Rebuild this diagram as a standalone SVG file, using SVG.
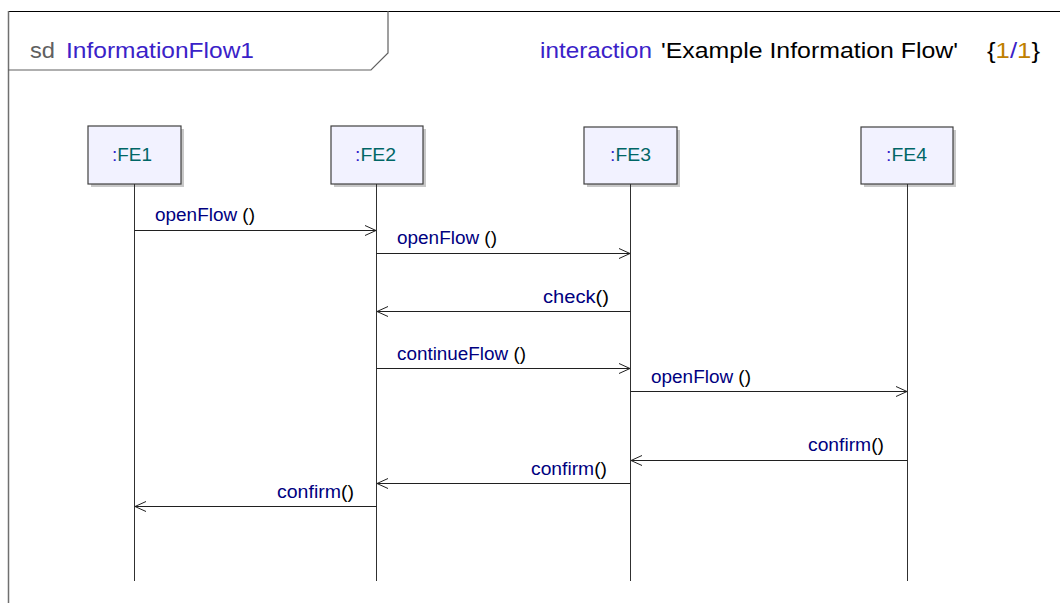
<svg xmlns="http://www.w3.org/2000/svg" width="1060" height="603" viewBox="0 0 1060 603">
<defs>
<style>
text{font-family:"Liberation Sans",Arial,sans-serif}
.t{font-size:21.5px}
.lbl{font-size:17.5px;fill:#000080}
.par{fill:#000}
.node rect.box{fill:#f2f2ff;stroke:#404040;stroke-width:1.2}
.node rect.sh{fill:#c8c8c8}
.nt{font-size:17.5px;fill:#006666}
.colon{fill:#3322cc}
.life{stroke:#303030;stroke-width:1}
.msg{stroke:#202020;stroke-width:1;fill:none}
</style>
<marker id="ah" viewBox="0 0 12 12" refX="11" refY="6" markerWidth="12" markerHeight="12" markerUnits="userSpaceOnUse" orient="auto">
<path d="M0,1 L11,6 L0,11" fill="none" stroke="#202020" stroke-width="1"/>
</marker>
</defs>
<rect width="1060" height="603" fill="#fff"/>
<g id="frame">
<line x1="8" y1="11.5" x2="1060" y2="11.5" stroke="#000" stroke-width="1.2"/>
<line x1="8.5" y1="11" x2="8.5" y2="603" stroke="#707070" stroke-width="1.5"/>
<polyline points="8,70 371,70 388,53 388,11" fill="none" stroke="#606060" stroke-width="1.2"/>
<text class="t" x="30" y="58" fill="#606060" textLength="25" lengthAdjust="spacingAndGlyphs">sd</text>
<text class="t" x="66" y="58" fill="#3a22c8" textLength="188" lengthAdjust="spacingAndGlyphs">InformationFlow1</text>
<text class="t" x="540" y="58" fill="#3a22c8" textLength="112" lengthAdjust="spacingAndGlyphs">interaction</text>
<text class="t" x="661" y="58" fill="#000" textLength="297" lengthAdjust="spacingAndGlyphs">'Example Information Flow'</text>
<text class="t" x="987" y="58" textLength="53" lengthAdjust="spacingAndGlyphs"><tspan fill="#000">{</tspan><tspan fill="#c08000">1</tspan><tspan fill="#3a22c8">/</tspan><tspan fill="#c08000">1</tspan><tspan fill="#000">}</tspan></text>
</g>
<g id="FE1" class="node">
<rect class="sh" x="91" y="129" width="93" height="58"/>
<rect class="box" x="88" y="126" width="93" height="58"/>
<text class="nt" x="112" y="161" textLength="40" lengthAdjust="spacingAndGlyphs"><tspan class="colon">:</tspan>FE1</text>
</g>
<g id="FE2" class="node">
<rect class="sh" x="334" y="129" width="92" height="58"/>
<rect class="box" x="331" y="126" width="92" height="58"/>
<text class="nt" x="355" y="161" textLength="41" lengthAdjust="spacingAndGlyphs"><tspan class="colon">:</tspan>FE2</text>
</g>
<g id="FE3" class="node">
<rect class="sh" x="587" y="130" width="93" height="57"/>
<rect class="box" x="584" y="127" width="93" height="57"/>
<text class="nt" x="610" y="161" textLength="41" lengthAdjust="spacingAndGlyphs"><tspan class="colon">:</tspan>FE3</text>
</g>
<g id="FE4" class="node">
<rect class="sh" x="864" y="130" width="92" height="57"/>
<rect class="box" x="861" y="127" width="92" height="57"/>
<text class="nt" x="886" y="161" textLength="41" lengthAdjust="spacingAndGlyphs"><tspan class="colon">:</tspan>FE4</text>
</g>
<g id="lifelines">
<line class="life" x1="134.5" y1="184" x2="134.5" y2="581"/>
<line class="life" x1="376.5" y1="184" x2="376.5" y2="581"/>
<line class="life" x1="630.5" y1="184" x2="630.5" y2="581"/>
<line class="life" x1="907.5" y1="184" x2="907.5" y2="581"/>
</g>
<g id="connectors">
<line class="msg" x1="134.5" y1="230.5" x2="376" y2="230.5" marker-end="url(#ah)"/>
<line class="msg" x1="376.5" y1="253.5" x2="630" y2="253.5" marker-end="url(#ah)"/>
<line class="msg" x1="630.5" y1="311.5" x2="377" y2="311.5" marker-end="url(#ah)"/>
<line class="msg" x1="376.5" y1="368.5" x2="630" y2="368.5" marker-end="url(#ah)"/>
<line class="msg" x1="630.5" y1="391.5" x2="907" y2="391.5" marker-end="url(#ah)"/>
<line class="msg" x1="907.5" y1="460.5" x2="631" y2="460.5" marker-end="url(#ah)"/>
<line class="msg" x1="630.5" y1="483.5" x2="377" y2="483.5" marker-end="url(#ah)"/>
<line class="msg" x1="376.5" y1="506.5" x2="135" y2="506.5" marker-end="url(#ah)"/>
<text class="lbl" x="155" y="221" textLength="100" lengthAdjust="spacingAndGlyphs">openFlow <tspan class="par">()</tspan></text>
<text class="lbl" x="397" y="244" textLength="100" lengthAdjust="spacingAndGlyphs">openFlow <tspan class="par">()</tspan></text>
<text class="lbl" x="543" y="303" textLength="66" lengthAdjust="spacingAndGlyphs">check<tspan class="par">()</tspan></text>
<text class="lbl" x="397" y="360" textLength="129" lengthAdjust="spacingAndGlyphs">continueFlow <tspan class="par">()</tspan></text>
<text class="lbl" x="651" y="383" textLength="100" lengthAdjust="spacingAndGlyphs">openFlow <tspan class="par">()</tspan></text>
<text class="lbl" x="808" y="451" textLength="76" lengthAdjust="spacingAndGlyphs">confirm<tspan class="par">()</tspan></text>
<text class="lbl" x="531" y="475" textLength="76" lengthAdjust="spacingAndGlyphs">confirm<tspan class="par">()</tspan></text>
<text class="lbl" x="277" y="498" textLength="77" lengthAdjust="spacingAndGlyphs">confirm<tspan class="par">()</tspan></text>
</g>
</svg>
